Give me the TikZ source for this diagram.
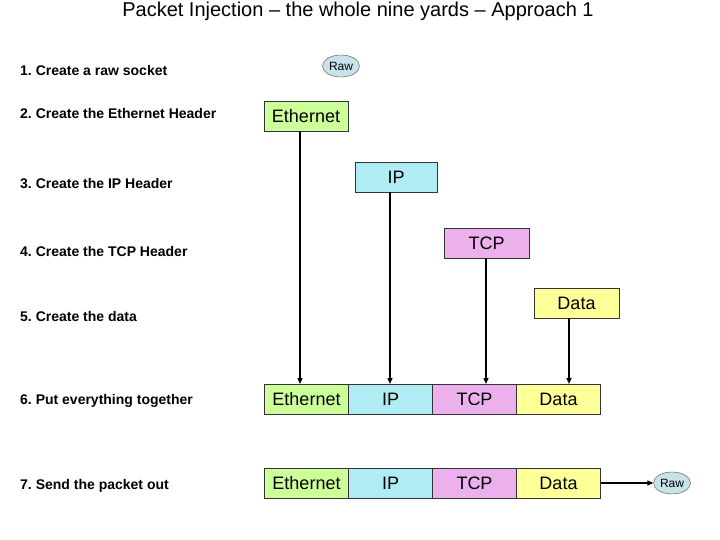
\documentclass[tikz,border=0pt]{standalone}
\usepackage{fontspec}
\setmainfont{Liberation Sans}
\usetikzlibrary{positioning,arrows.meta,shapes.geometric}
\definecolor{ethc}{HTML}{CCFF99}
\definecolor{ipc}{HTML}{B0ECF4}
\definecolor{tcpc}{HTML}{ECB0EC}
\definecolor{datac}{HTML}{FFFF99}
\definecolor{rawc}{HTML}{C8E2EA}
\begin{document}
\begin{tikzpicture}[x=1pt, y=-1pt,
  lbl/.style={anchor=west, inner sep=0pt, font=\fontsize{14}{16}\selectfont\bfseries},
  hdr/.style={draw=black!80, line width=0.6pt, minimum width=84pt, minimum height=30pt, inner sep=0pt, outer sep=0pt, font=\fontsize{18}{21}\selectfont},
  raw/.style={ellipse, draw=black!70, fill=rawc, minimum width=37pt, minimum height=22pt, inner sep=0pt, font=\fontsize{12}{14}\selectfont},
  down/.style={line width=1.4pt, -{Triangle[length=6pt,width=5pt]}}]
  \useasboundingbox (0,0) rectangle (720,540);
  \node (title) at (358,11) {\fontsize{20}{24}\selectfont Packet Injection – the whole nine yards – Approach 1};
  % steps on the left
  \foreach \n/\y/\txt in {1/70/Create a raw socket, 2/113/Create the Ethernet Header, 3/184/Create the IP Header,
      4/251/Create the TCP Header, 5/316/Create the data, 6/401/Put everything together, 7/486/Send the packet out} {
    \node[lbl] (s\n) at (20,\y) {\n.\ \txt};
  }
  % headers built one by one
  \node[raw] (rawTop) at (341,66) {Raw};
  \node[hdr, fill=ethc] (ethTop) at (306,116.5) {Ethernet};
  \node[hdr, fill=ipc, minimum width=82pt] (ipTop) at (396,177.5) {IP};
  \node[hdr, fill=tcpc, minimum width=85pt] (tcpTop) at (486.5,243) {TCP};
  \node[hdr, fill=datac, minimum width=85pt] (dataTop) at (576.5,303) {Data};
  % the packet
  \foreach \r/\y in {6/399,7/483} {
    \node[hdr, fill=ethc] (eth\r) at (306.5,\y) {Ethernet};
    \node[hdr, fill=ipc, right=0pt of eth\r] (ip\r) {IP};
    \node[hdr, fill=tcpc, right=0pt of ip\r] (tcp\r) {TCP};
    \node[hdr, fill=datac, right=0pt of tcp\r] (data\r) {Data};
  }
  \node[raw] (rawOut) at (672,483) {Raw};
  \draw[down] ([xshift=-6pt]ethTop.south) -- ([xshift=-6pt]ethTop.south |- eth6.north);
  \draw[down] ([xshift=-6pt]ipTop.south) -- ([xshift=-6pt]ipTop.south |- ip6.north);
  \draw[down] ([xshift=-0.5pt]tcpTop.south) -- ([xshift=-0.5pt]tcpTop.south |- tcp6.north);
  \draw[down] ([xshift=-7.5pt]dataTop.south) -- ([xshift=-7.5pt]dataTop.south |- data6.north);
  \draw[down] (data7) -- (rawOut);
\end{tikzpicture}
\end{document}
